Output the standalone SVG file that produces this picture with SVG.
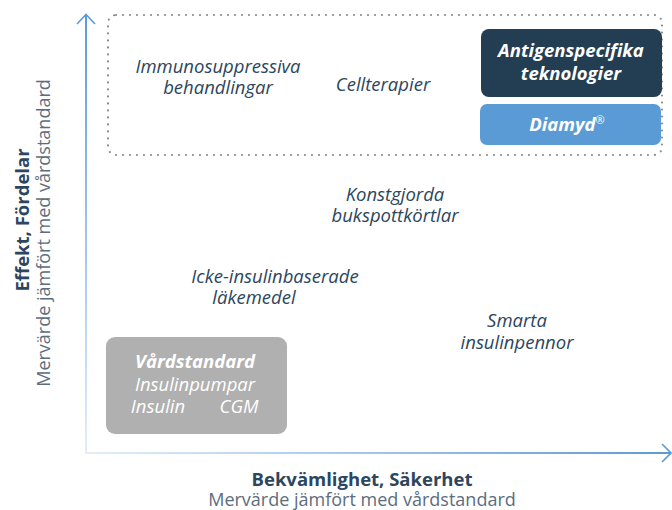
<svg xmlns="http://www.w3.org/2000/svg" width="672" height="510" viewBox="0 0 672 510">
<defs>
<linearGradient id="gy" x1="0" y1="0" x2="0" y2="1"><stop offset="0" stop-color="#5b9bd5"/><stop offset="1" stop-color="#e3eef9"/></linearGradient>
<linearGradient id="gx" x1="0" y1="0" x2="1" y2="0"><stop offset="0" stop-color="#e3eef9"/><stop offset="1" stop-color="#5b9bd5"/></linearGradient>
<style>
text{font-family:"Open Sans","Noto Sans","DejaVu Sans",sans-serif;}
.lbl{font-size:18.5px;font-style:italic;fill:#2c4660;text-anchor:middle;}
.w{fill:#ffffff;}
.b{font-weight:bold;}
.ax{font-size:18.5px;font-weight:bold;fill:#2c4660;text-anchor:middle;}
.sub{font-size:18px;fill:#5c6d7e;text-anchor:middle;}
</style>
</defs>
<g id="axes">
<rect x="85" y="15" width="2" height="439" fill="url(#gy)"/>
<path d="M77 24 L86 14.5 L95 24" fill="none" stroke="#5b9bd5" stroke-width="1.6"/>
<rect x="86" y="452" width="584" height="2" fill="url(#gx)"/>
<path d="M662 444 L671 453 L662 462" fill="none" stroke="#5b9bd5" stroke-width="1.6"/>
</g>
<g id="zone">
<rect x="108" y="15" width="554" height="140" rx="8" fill="none" stroke="#8a8a8a" stroke-width="2.2" stroke-dasharray="0 7" stroke-linecap="round"/>
</g>
<g id="immuno"><text class="lbl" x="218" y="73">Immunosuppressiva</text><text class="lbl" x="218" y="94">behandlingar</text></g>
<g id="cell"><text class="lbl" x="383" y="91">Cellterapier</text></g>
<g id="antigen"><rect x="481" y="29" width="181" height="68" rx="8" fill="#233d53"/><text class="lbl w b" x="571" y="57">Antigenspecifika</text><text class="lbl w b" x="571" y="80">teknologier</text></g>
<g id="diamyd"><rect x="480" y="104" width="181" height="41" rx="7" fill="#5b9bd5"/><text class="lbl w b" x="567" y="131">Diamyd<tspan font-size="11" dy="-7" font-weight="normal">®</tspan></text></g>
<g id="konst"><text class="lbl" x="395" y="201">Konstgjorda</text><text class="lbl" x="395" y="222">bukspottkörtlar</text></g>
<g id="icke"><text class="lbl" x="275" y="283">Icke-insulinbaserade</text><text class="lbl" x="254" y="304">läkemedel</text></g>
<g id="smarta"><text class="lbl" x="517" y="327">Smarta</text><text class="lbl" x="517" y="349">insulinpennor</text></g>
<g id="vard"><rect x="106" y="337" width="181" height="97" rx="9" fill="#b0b0b0"/><text class="lbl w b" x="195" y="368">Vårdstandard</text><text class="lbl w" x="195" y="391">Insulinpumpar</text><text class="lbl w" x="158" y="413">Insulin</text><text class="lbl w" x="239" y="413">CGM</text></g>
<g id="ylabel"><text class="ax" transform="translate(29,220) rotate(-90)">Effekt, Fördelar</text><text class="sub" transform="translate(50,233) rotate(-90)">Mervärde jämfört med vårdstandard</text></g>
<g id="xlabel"><text class="ax" x="362" y="486">Bekvämlighet, Säkerhet</text><text class="sub" x="362" y="506">Mervärde jämfört med vårdstandard</text></g>
</svg>
